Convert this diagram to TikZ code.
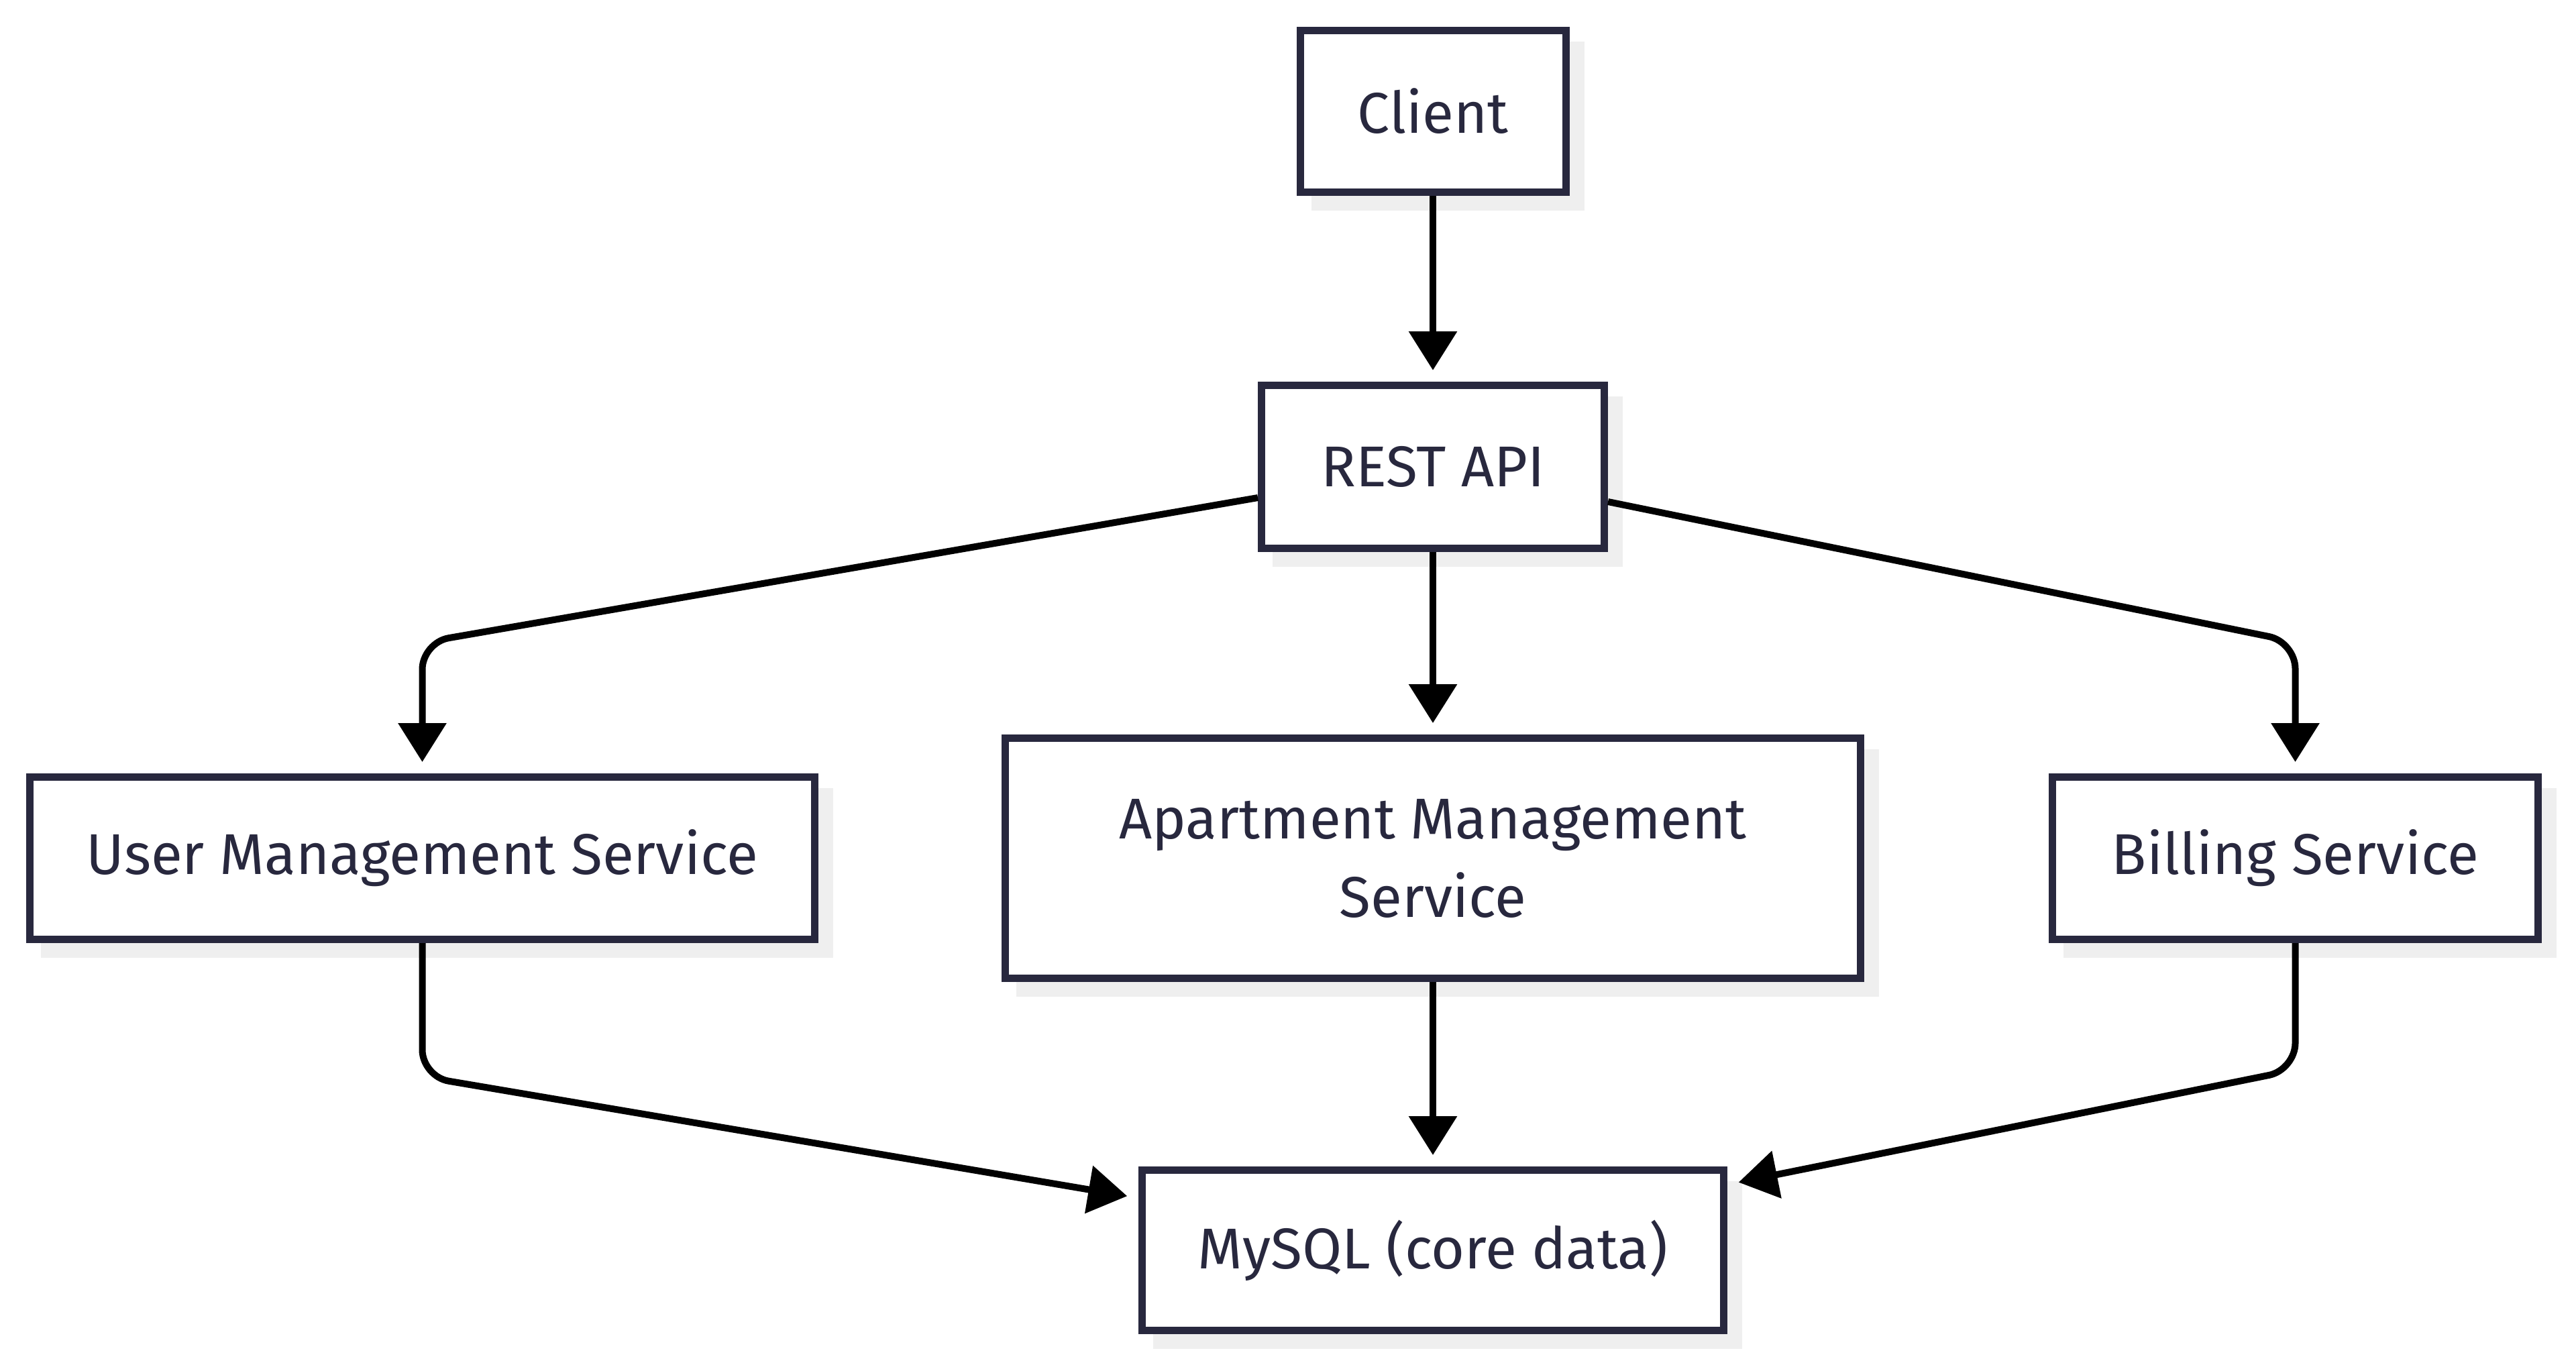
\documentclass[tikz,border=0pt]{standalone}
\usepackage{fontspec}
\setmainfont{Fira Sans}
\usetikzlibrary{arrows.meta,shadows}

\definecolor{boxline}{HTML}{28283E}
\definecolor{shade}{HTML}{EFEFEF}

\tikzset{
  box/.style={draw=boxline,line width=0.11cm,fill=white,text=boxline,
    inner sep=0pt,align=center,font=\fontsize{24.4}{33.3}\selectfont,
    drop shadow={shadow xshift=0.22cm,shadow yshift=-0.22cm,
      fill=shade,draw=shade,line width=0.11cm,opacity=1}},
  flow/.style={draw=black,line width=0.1cm,rounded corners=0.4cm,
    -{Triangle[length=0.58cm,width=0.7cm]},shorten >=0.17cm}
}

\begin{document}
\begin{tikzpicture}
\useasboundingbox[fill=white] (0,0) rectangle (38.4,-20.37);

\node[box,minimum width=3.96cm,minimum height=2.41cm] (client) at (21.36,-1.66) {Client};
\node[box,minimum width=5.11cm,minimum height=2.43cm] (rest) at (21.36,-6.96) {REST API};

\node[box,minimum width=11.70cm,minimum height=2.42cm] (user) at (6.295,-12.795) {User Management Service};
\node[box,minimum width=12.75cm,minimum height=3.58cm] (apart) at (21.36,-12.795) {Apartment Management\\Service};
\node[box,minimum width=7.24cm,minimum height=2.42cm] (bill) at (34.215,-12.795) {Billing Service};

\node[box,minimum width=8.67cm,minimum height=2.39cm] (mysql) at (21.36,-18.64) {MySQL (core data)};

\draw[flow] (client) -- (rest);
\draw[flow] (rest) -- (apart);
\draw[flow] (apart) -- (mysql);

\draw[flow] (rest.west |- 0,-7.42) -- (user.north |- 0,-9.58) -- (user.north);
\draw[flow] (rest.east |- 0,-7.48) -- (bill.north |- 0,-9.57) -- (bill.north);

\draw[flow] (user.south) -- (user.south |- 0,-16.05) -- (mysql.west |- 0,-17.86);
\draw[flow] (bill.south) -- (bill.south |- 0,-15.95) -- (mysql.east |- 0,-17.66);

\end{tikzpicture}
\end{document}
